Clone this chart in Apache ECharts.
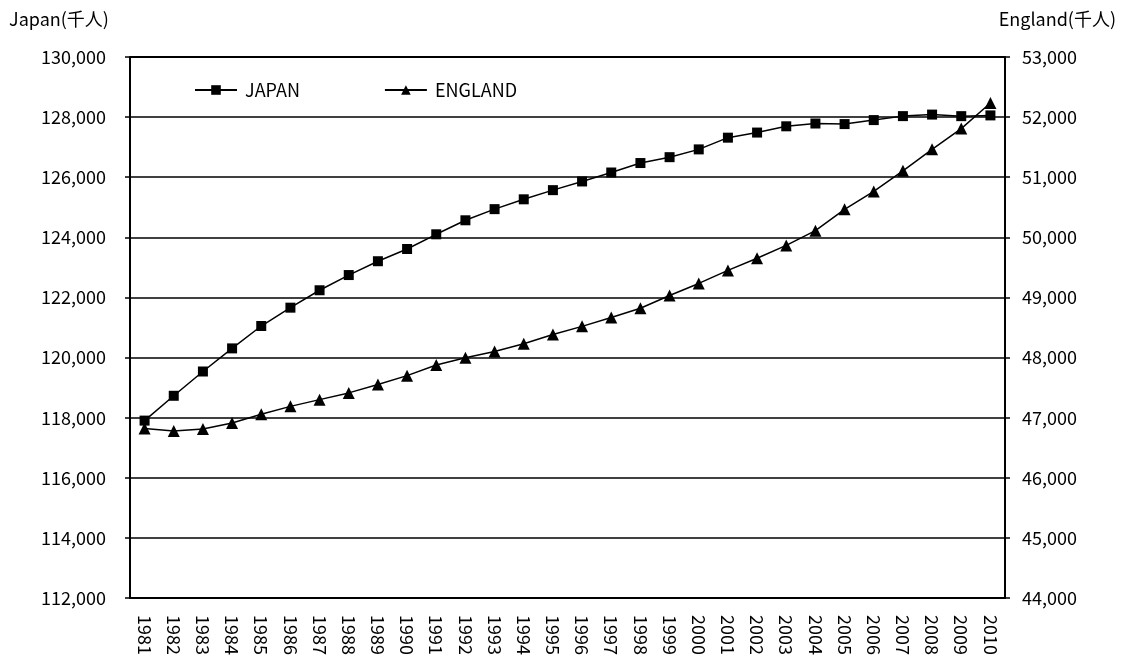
<!DOCTYPE html>
<html>
<head>
<meta charset="utf-8">
<script src="https://cdn.jsdelivr.net/npm/echarts@6/dist/echarts.min.js"></script>
<style>
  html, body { margin: 0; padding: 0; background: #fff; }
  #chart { width: 1124px; height: 658px; }
</style>
</head>
<body>
<div id="chart"></div>
<script>
// Population by year (thousands)
const years = ['1981','1982','1983','1984','1985','1986','1987','1988','1989','1990',
  '1991','1992','1993','1994','1995','1996','1997','1998','1999','2000',
  '2001','2002','2003','2004','2005','2006','2007','2008','2009','2010'];
const japan = [117902,118728,119536,120305,121049,121660,122239,122745,123205,123611,
  124101,124567,124938,125265,125570,125859,126157,126472,126667,126926,
  127316,127486,127694,127787,127768,127901,128033,128084,128032,128057];
const england = [46821,46777,46813,46912,47057,47188,47300,47412,47552,47699,
  47875,47998,48102,48229,48383,48519,48665,48821,49033,49233,
  49450,49652,49866,50111,50466,50763,51106,51464,51809,52234];

const FONT = '"Noto Sans CJK JP", "Noto Sans", sans-serif';
const fmt = v => v.toLocaleString('en-US');

const chart = echarts.init(document.getElementById('chart'), null, { renderer: 'canvas' });
chart.setOption({
  animation: false,
  backgroundColor: '#fff',
  textStyle: { fontFamily: FONT, color: '#000' },
  grid: { left: 130, right: 119, top: 57, bottom: 60, containLabel: false },
  legend: {
    left: 189, top: 76, itemGap: 84, itemWidth: 42, itemHeight: 12,
    textStyle: { fontFamily: FONT, fontSize: 18, color: '#000', padding: [0, 0, 0, 3] },
    data: ['JAPAN', 'ENGLAND']
  },
  graphic: [
    { type: 'text', left: 9, top: 10, style: { text: 'Japan(千人)', font: '18px ' + FONT, fill: '#000' } },
    { type: 'text', right: 8, top: 10, style: { text: 'England(千人)', font: '18px ' + FONT, fill: '#000' } },
    // closing frame across the top of the plot
    { type: 'line', shape: { x1: 130, y1: 57, x2: 1005, y2: 57 }, style: { stroke: '#000', lineWidth: 2 } }
  ],
  xAxis: {
    type: 'category', data: years, boundaryGap: true,
    axisLine: { lineStyle: { color: '#000', width: 2 } },
    axisTick: { inside: true, length: 5, lineStyle: { color: '#000', width: 1.5 } },
    axisLabel: { rotate: -90, margin: 17, fontSize: 18, color: '#000', fontFamily: FONT }
  },
  yAxis: [
    {
      type: 'value', min: 112000, max: 130000, interval: 2000,
      axisLine: { show: true, lineStyle: { color: '#000', width: 2 } },
      axisTick: { show: true, length: 5, lineStyle: { color: '#000', width: 1.5 } },
      splitLine: { show: true, lineStyle: { color: '#000', width: 1.5 } },
      axisLabel: { formatter: fmt, margin: 24, fontSize: 18, color: '#000', fontFamily: FONT }
    },
    {
      type: 'value', min: 44000, max: 53000, interval: 1000, position: 'right',
      axisLine: { show: true, lineStyle: { color: '#000', width: 2 } },
      axisTick: { show: true, length: 5, lineStyle: { color: '#000', width: 1.5 } },
      splitLine: { show: false },
      axisLabel: { formatter: fmt, margin: 17, fontSize: 18, color: '#000', fontFamily: FONT }
    }
  ],
  series: [
    {
      name: 'JAPAN', type: 'line', yAxisIndex: 0, data: japan,
      symbol: 'rect', symbolSize: 10,
      lineStyle: { color: '#000', width: 1.5 },
      itemStyle: { color: '#000' }
    },
    {
      name: 'ENGLAND', type: 'line', yAxisIndex: 1, data: england,
      symbol: 'triangle', symbolSize: 12,
      lineStyle: { color: '#000', width: 1.5 },
      itemStyle: { color: '#000' }
    }
  ]
});
</script>
</body>
</html>
